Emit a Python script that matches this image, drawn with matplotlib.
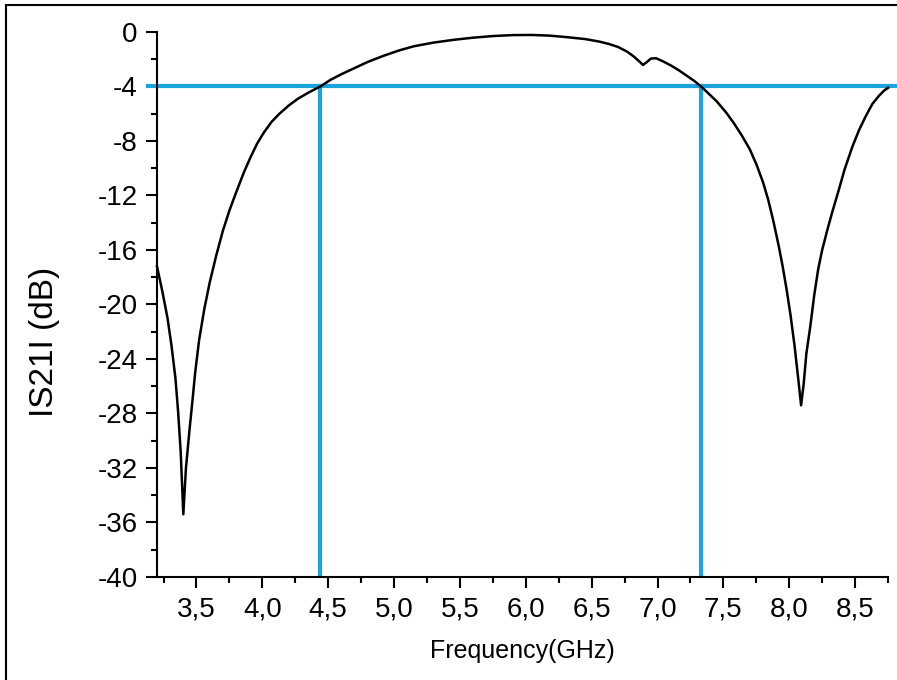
import matplotlib.pyplot as plt
from matplotlib.lines import Line2D
from matplotlib.ticker import MultipleLocator, FuncFormatter

plt.rcParams['font.family'] = ['Liberation Sans', 'DejaVu Sans']

freq_ghz = [3.20, 3.24, 3.28, 3.31, 3.34, 3.36, 3.38, 3.40, 3.42, 3.447, 3.47,
            3.49, 3.52, 3.56, 3.60, 3.65, 3.70, 3.75, 3.80, 3.86, 3.91,
            3.96, 4.01, 4.07, 4.13, 4.20, 4.27, 4.35, 4.44, 4.52, 4.60, 4.70,
            4.80, 4.92, 5.04, 5.15, 5.30, 5.45, 5.60, 5.75, 5.90, 6.05, 6.18,
            6.30, 6.45, 6.56, 6.63, 6.70, 6.77, 6.82, 6.86, 6.89, 6.92, 6.95,
            6.99, 7.04, 7.10, 7.16, 7.22, 7.28, 7.33, 7.38, 7.45, 7.52, 7.58,
            7.64, 7.70, 7.75, 7.80, 7.84, 7.88, 7.92, 7.95, 7.98, 8.01, 8.04,
            8.07, 8.09, 8.11, 8.13, 8.16, 8.19, 8.22, 8.25, 8.29, 8.33, 8.37,
            8.42, 8.48, 8.53, 8.58, 8.63, 8.68, 8.72, 8.75]
s21_db = [-17.2, -19.0, -21.0, -23.0, -25.4, -27.8, -30.8, -35.4, -32.0, -29.2, -27.0,
          -25.0, -22.6, -20.3, -18.4, -16.4, -14.6, -13.1, -11.8, -10.3, -9.2,
          -8.2, -7.4, -6.6, -6.0, -5.4, -4.9, -4.45, -4.0, -3.5, -3.1, -2.65,
          -2.2, -1.75, -1.35, -1.05, -0.78, -0.58, -0.42, -0.30, -0.23, -0.22, -0.27,
          -0.37, -0.52, -0.71, -0.88, -1.1, -1.45, -1.8, -2.15, -2.42, -2.2, -1.95,
          -1.93, -2.15, -2.45, -2.8, -3.2, -3.6, -4.0, -4.45, -5.1, -5.9, -6.7,
          -7.6, -8.6, -9.7, -11.0, -12.3, -13.9, -15.7, -17.2, -18.9, -20.8, -23.0,
          -25.6, -27.4, -25.8, -23.6, -21.6, -19.3, -17.4, -16.0, -14.5, -13.1, -11.8,
          -10.1, -8.4, -7.2, -6.2, -5.3, -4.7, -4.3, -4.1]

# -4 dB bandwidth markers
threshold_db = -4
band_low = 4.44
band_high = 7.33

blue = '#1aa3dc'

fig = plt.figure(figsize=(8.97, 6.80), dpi=100)
ax = fig.add_axes([0.175, 0.1515, 0.815, 0.8015])

ax.plot(freq_ghz, s21_db, color='black', lw=1.8, clip_on=False, zorder=3)

ax.axhline(threshold_db, xmin=-0.012, xmax=1.02, color=blue, lw=3, clip_on=False, zorder=2)
ax.plot([band_low, band_low], [threshold_db, -40], color=blue, lw=3, zorder=2)
ax.plot([band_high, band_high], [threshold_db, -40], color=blue, lw=3, zorder=2)

ax.set_xlim(3.2, 8.75)
ax.set_ylim(-40, 0)
ax.xaxis.set_major_locator(MultipleLocator(0.5))
ax.xaxis.set_minor_locator(MultipleLocator(0.25))
ax.yaxis.set_major_locator(MultipleLocator(4))
ax.yaxis.set_minor_locator(MultipleLocator(2))
ax.xaxis.set_major_formatter(FuncFormatter(lambda v, p: f'{v:.1f}'.replace('.', ',')))
ax.yaxis.set_major_formatter(FuncFormatter(lambda v, p: f'{v:.0f}'))

for s in ['top', 'right']:
    ax.spines[s].set_visible(False)
for s in ['left', 'bottom']:
    ax.spines[s].set_linewidth(1.5)

ax.tick_params(which='major', length=8, width=1.5, labelsize=20, pad=6)
ax.tick_params(which='minor', length=4, width=1.5)

ax.set_xlabel('Frequency(GHz)', fontsize=18, labelpad=12)
ax.set_ylabel('IS21I (dB)', fontsize=24)
ax.yaxis.set_label_coords(-0.132, 0.431)

# thin frame on top and left of the picture
fig.add_artist(Line2D([6 / 897, 1], [1 - 5 / 680, 1 - 5 / 680], color='black', lw=1.5,
                      transform=fig.transFigure))
fig.add_artist(Line2D([6 / 897, 6 / 897], [0, 1 - 5 / 680], color='black', lw=1.5,
                      transform=fig.transFigure))

fig.savefig('out.png', dpi=100)
